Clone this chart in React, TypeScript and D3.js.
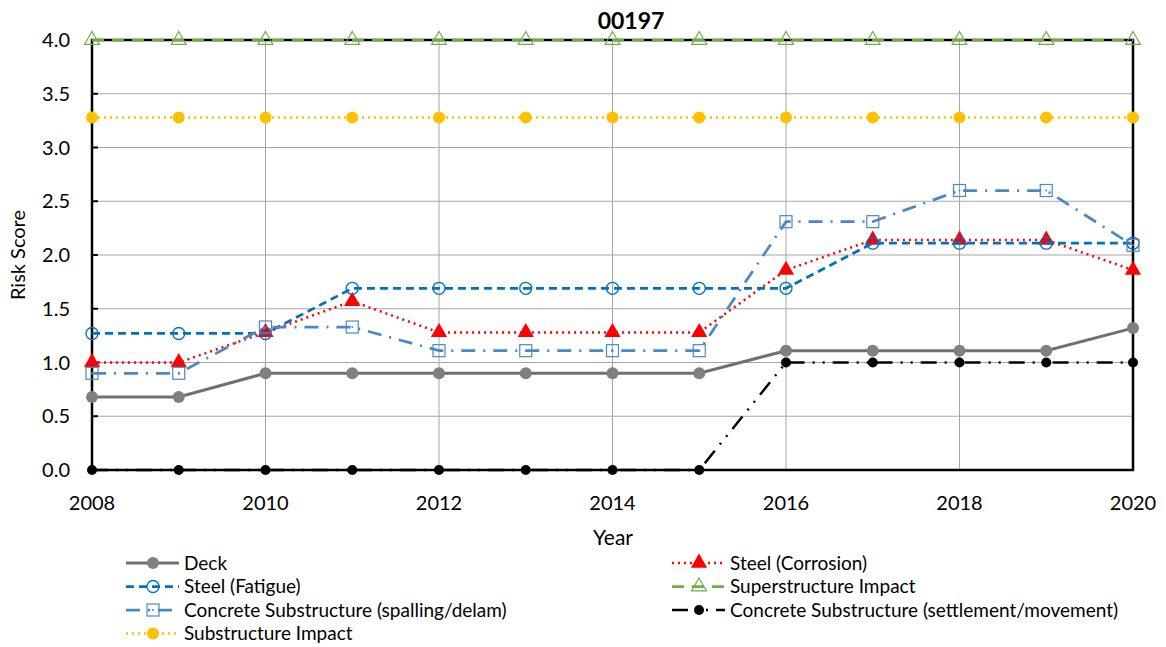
import React from "react";
import * as d3 from "d3";

const years = [2008, 2009, 2010, 2011, 2012, 2013, 2014, 2015, 2016, 2017, 2018, 2019, 2020];
const deck = [0.68, 0.68, 0.9, 0.9, 0.9, 0.9, 0.9, 0.9, 1.11, 1.11, 1.11, 1.11, 1.32];
const steelCorrosion = [1.0, 1.0, 1.28, 1.57, 1.28, 1.28, 1.28, 1.28, 1.86, 2.14, 2.14, 2.14, 1.86];
const steelFatigue = [1.27, 1.27, 1.27, 1.69, 1.69, 1.69, 1.69, 1.69, 1.69, 2.11, 2.11, 2.11, 2.11];
const superImpact = [4, 4, 4, 4, 4, 4, 4, 4, 4, 4, 4, 4, 4];
const spalling = [0.9, 0.9, 1.33, 1.33, 1.11, 1.11, 1.11, 1.11, 2.31, 2.31, 2.6, 2.6, 2.09];
const settlement = [0, 0, 0, 0, 0, 0, 0, 0, 1.0, 1.0, 1.0, 1.0, 1.0];
const subImpact = [3.28, 3.28, 3.28, 3.28, 3.28, 3.28, 3.28, 3.28, 3.28, 3.28, 3.28, 3.28, 3.28];
const yTicks = [0, 0.5, 1, 1.5, 2, 2.5, 3, 3.5, 4];
const xTicks = [2008, 2010, 2012, 2014, 2016, 2018, 2020];

type Marker = "fcircle" | "ocircle" | "ftri" | "otri" | "osquare" | "bcircle";
interface Series {
  name: string;
  values: number[];
  color: string;
  dash: string;
  width: number;
  marker: Marker;
  mcolor: string;
}

const series: Series[] = [
  { name: "Deck", values: deck, color: "#707070", dash: "", width: 3, marker: "fcircle", mcolor: "#808080" },
  { name: "Steel (Corrosion)", values: steelCorrosion, color: "#ff0000", dash: "2 4", width: 2.5, marker: "ftri", mcolor: "#ff0000" },
  { name: "Steel (Fatigue)", values: steelFatigue, color: "#0070c0", dash: "8 5", width: 2.75, marker: "ocircle", mcolor: "#0070c0" },
  { name: "Superstructure Impact", values: superImpact, color: "#70ad47", dash: "12 8", width: 2.75, marker: "otri", mcolor: "#70ad47" },
  { name: "Concrete Substructure (spalling/delam)", values: spalling, color: "#4a88c7", dash: "14 8 2 8", width: 2.75, marker: "osquare", mcolor: "#4a88c7" },
  { name: "Concrete Substructure (settlement/movement)", values: settlement, color: "#000000", dash: "16 8 2 8 2 8", width: 2.5, marker: "bcircle", mcolor: "#000000" },
  { name: "Substructure Impact", values: subImpact, color: "#ffc000", dash: "2 4", width: 2.5, marker: "fcircle", mcolor: "#ffc000" },
];

const W = 1166;
const H = 647;
const left = 92;
const right = 1133;
const top = 40;
const bottom = 470;
const FONT = "Lato, 'Open Sans', sans-serif";

function MarkerShape({ m, x, y, c }: { m: Marker; x: number; y: number; c: string }) {
  switch (m) {
    case "fcircle":
      return <circle cx={x} cy={y} r={6} fill={c} />;
    case "bcircle":
      return <circle cx={x} cy={y} r={5} fill={c} />;
    case "ocircle":
      return <circle cx={x} cy={y} r={6} fill="white" fillOpacity={0} stroke={c} strokeWidth={1.3} />;
    case "ftri":
      return <path d={d3.symbol(d3.symbolTriangle, 115)()!} transform={`translate(${x},${y})`} fill={c} />;
    case "otri":
      return <path d={d3.symbol(d3.symbolTriangle, 95)()!} transform={`translate(${x},${y})`} fill="none" stroke={c} strokeWidth={1.2} />;
    case "osquare":
      return (
        <g>
          <rect x={x - 6} y={y - 6} width={12} height={12} fill="none" stroke={c} strokeWidth={1.2} />
          <circle cx={x} cy={y} r={1} fill={c} />
        </g>
      );
  }
}

export default function App() {
  const x = d3.scaleLinear().domain([2008, 2020]).range([left, right]);
  const y = d3.scaleLinear().domain([0, 4]).range([bottom, top]);
  const line = d3
    .line<number>()
    .x((_, i) => x(years[i]))
    .y((d) => y(d));

  const legendRows = [
    { s: series[0], col: 0, row: 0 },
    { s: series[1], col: 1, row: 0 },
    { s: series[2], col: 0, row: 1 },
    { s: series[3], col: 1, row: 1 },
    { s: series[4], col: 0, row: 2 },
    { s: series[5], col: 1, row: 2 },
    { s: series[6], col: 0, row: 3 },
  ];
  const legendY = [563, 586.5, 610, 633.5];
  const legendX = [126, 672];

  return (
    <svg width={W} height={H} style={{ position: "absolute", left: 0, top: 0, background: "white" }} fontFamily={FONT}>
      <rect width={W} height={H} fill="white" />
      {/* grid */}
      {yTicks.map((t) => (
        <line key={"gy" + t} x1={left} x2={right} y1={y(t)} y2={y(t)} stroke="#a6a6a6" strokeWidth={1} />
      ))}
      {xTicks.map((t) => (
        <line key={"gx" + t} x1={x(t)} x2={x(t)} y1={top} y2={bottom} stroke="#a6a6a6" strokeWidth={1} />
      ))}
      {/* border */}
      <rect x={left} y={top} width={right - left} height={bottom - top} fill="none" stroke="black" strokeWidth={2.5} />
      {/* y ticks */}
      {yTicks.map((t) => (
        <g key={"ty" + t}>
          <line x1={left} x2={left + 6} y1={y(t)} y2={y(t)} stroke="black" strokeWidth={2} />
          <text x={70} y={y(t)} dy="0.36em" textAnchor="end" fontSize={20} fill="#000">
            {t.toFixed(1)}
          </text>
        </g>
      ))}
      {xTicks.map((t) => (
        <text key={"tx" + t} x={x(t)} y={510} textAnchor="middle" fontSize={20} fill="#000">
          {t}
        </text>
      ))}
      {/* series */}
      {series.map((s) => (
        <g key={s.name}>
          <path d={line(s.values)!} fill="none" stroke={s.color} strokeWidth={s.width} strokeDasharray={s.dash} />
          {s.values.map((v, i) => (
            <MarkerShape key={i} m={s.marker} x={x(years[i])} y={y(v)} c={s.mcolor} />
          ))}
        </g>
      ))}
      {/* titles */}
      <text x={631} y={29} textAnchor="middle" fontSize={23} fontWeight="bold" fill="#000">
        00197
      </text>
      <text x={613} y={545} textAnchor="middle" fontSize={21} fill="#000">
        Year
      </text>
      <text transform={`translate(25,${(top + bottom) / 2}) rotate(-90)`} textAnchor="middle" fontSize={20} fill="#000">
        Risk Score
      </text>
      {/* legend */}
      {legendRows.map(({ s, col, row }) => {
        const lx = legendX[col];
        const ly = legendY[row];
        return (
          <g key={"lg" + s.name}>
            <line x1={lx} x2={lx + 53} y1={ly} y2={ly} stroke={s.color} strokeWidth={s.width} strokeDasharray={s.dash} />
            <MarkerShape m={s.marker} x={lx + 27} y={ly} c={s.mcolor} />
            <text x={lx + 58} y={ly} dy="0.36em" fontSize={19} fill="#000">
              {s.name}
            </text>
          </g>
        );
      })}
    </svg>
  );
}
